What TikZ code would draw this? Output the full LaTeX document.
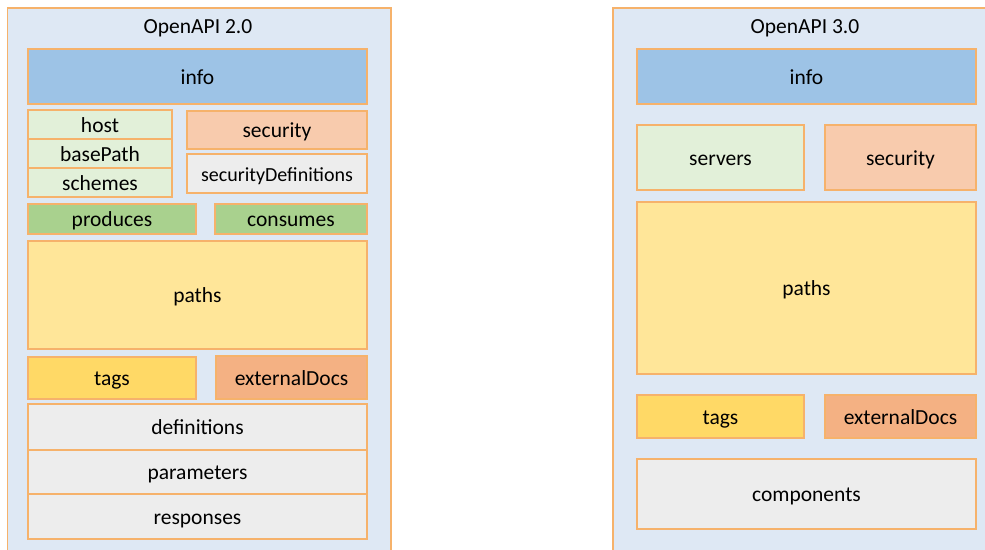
\documentclass[tikz,border=0pt]{standalone}
\usepackage{fontspec}
\setmainfont{Carlito}
\definecolor{bord}{HTML}{F6B26B}
\definecolor{panel}{HTML}{DEE8F4}
\definecolor{infoc}{HTML}{9DC3E6}
\definecolor{lgreen}{HTML}{E2F0D9}
\definecolor{salmon}{HTML}{F8CBAD}
\definecolor{lgray}{HTML}{EDEDED}
\definecolor{mgreen}{HTML}{A9D18E}
\definecolor{lyellow}{HTML}{FFE699}
\definecolor{myellow}{HTML}{FFD966}
\definecolor{orng}{HTML}{F4B183}
\newcommand\bx[7]{\node[box, fill=#6, minimum width={#4pt-#2pt}, minimum height={#5pt-#3pt}] (#1) at ({(#2+#4)/2},{(#3+#5)/2}) {#7};}
\begin{document}
\begin{tikzpicture}[x=1pt,y=-1pt,
  box/.style={draw=bord, line width=1.2pt, inner sep=0pt, outer sep=0pt, text height=15.5pt, text depth=0pt, font=\fontsize{21.5}{25}\selectfont, text=black},
  ttl/.style={inner sep=0pt, anchor=base, font=\fontsize{21.5}{25}\selectfont, text=black}]
\useasboundingbox (0,0) rectangle (985,549);
\begin{scope}
\clip (0,0) rectangle (985,549);
% OpenAPI 2.0
\bx{p2}{7.5}{8}{391}{575}{panel}{}
\node[ttl] (t2) at (198,33) {OpenAPI 2.0};
\bx{info2}{28}{49}{367}{104}{infoc}{info}
\bx{host}{28}{110}{172}{139}{lgreen}{host}
\bx{base}{28}{139}{172}{168}{lgreen}{basePath}
\bx{schemes}{28}{168}{172}{197}{lgreen}{schemes}
\bx{sec2}{187}{111}{367}{149}{salmon}{security}
\bx{secdef}{187}{154}{367}{193}{lgray}{\fontsize{20}{24}\selectfont securityDefinitions}
\bx{prod}{28}{204}{196}{234}{mgreen}{produces}
\bx{cons}{215}{204}{367}{234}{mgreen}{consumes}
\bx{paths2}{28}{241}{367}{349}{lyellow}{paths}
\bx{tags2}{28}{357}{196}{399}{myellow}{tags}
\bx{ext2}{216}{356}{367}{399}{orng}{externalDocs}
\bx{defs}{28}{404}{367}{450}{lgray}{definitions}
\bx{params}{28}{450}{367}{494}{lgray}{parameters}
\bx{resp}{28}{494}{367}{539}{lgray}{responses}
% OpenAPI 3.0
\bx{p3}{613}{8}{1010}{575}{panel}{}
\node[ttl] (t3) at (805,33) {OpenAPI 3.0};
\bx{info3}{637}{49}{976}{104}{infoc}{info}
\bx{servers}{637}{125}{804}{190}{lgreen}{servers}
\bx{sec3}{825}{125}{976}{190}{salmon}{security}
\bx{paths3}{637}{202}{976}{374}{lyellow}{paths}
\bx{tags3}{637}{395}{804}{438}{myellow}{tags}
\bx{ext3}{825}{395}{976}{438}{orng}{externalDocs}
\bx{comp}{637}{459}{976}{529}{lgray}{components}
\end{scope}
\end{tikzpicture}
\end{document}
